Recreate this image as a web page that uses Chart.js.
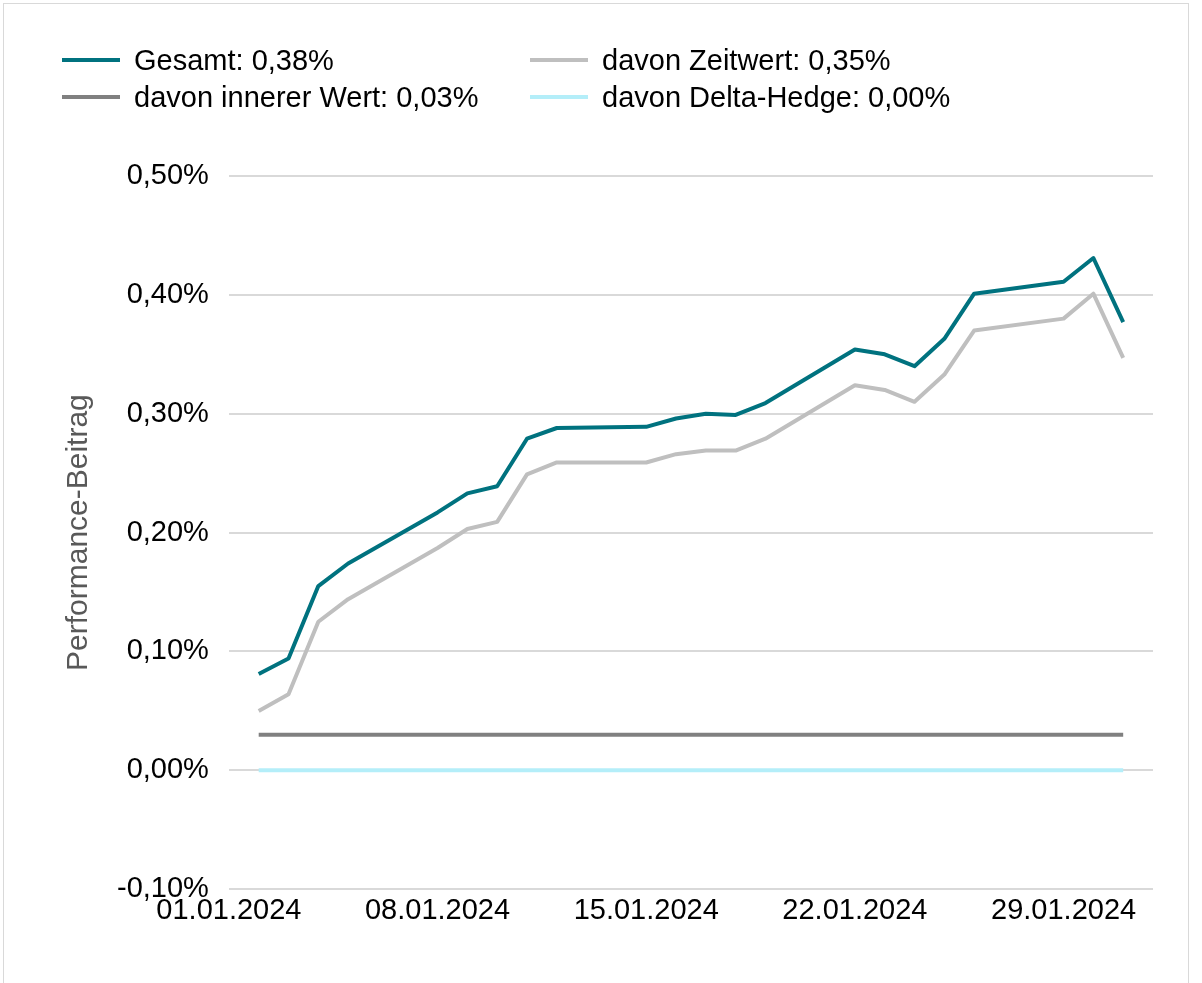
<!DOCTYPE html>
<html>
<head>
<meta charset="utf-8">
<title>Performance-Beitrag</title>
<script src="https://cdn.jsdelivr.net/npm/chart.js@4.4.1/dist/chart.umd.min.js"></script>
<style>
  html, body { margin: 0; padding: 0; background: #fff; }
  #wrap { position: relative; width: 1202px; height: 983px; overflow: hidden; }
  #frame {
    position: absolute; left: 3px; top: 3px; width: 1186px; height: 1000px;
    border: 1px solid #d9d9d9; box-sizing: border-box; pointer-events: none;
  }
  #chart { position: absolute; left: 0; top: 0; }
  .legend-item { position: absolute; height: 36px; }
  .legend-item .swatch { position: absolute; left: 0; top: 16px; width: 58px; height: 4px; }
  .legend-item .label {
    position: absolute; left: 72px; top: 0; white-space: nowrap;
    font: 29px "Liberation Sans", Arial, sans-serif; line-height: 36px; color: #000;
  }
</style>
</head>
<body>
<div id="wrap">
  <canvas id="chart" width="1202" height="983"></canvas>
  <div id="legend"></div>
  <div id="frame"></div>
</div>
<script>
// Handelstage im Januar 2024
const dates = [
  '02.01.2024', '03.01.2024', '04.01.2024', '05.01.2024',
  '08.01.2024', '09.01.2024', '10.01.2024', '11.01.2024', '12.01.2024',
  '15.01.2024', '16.01.2024', '17.01.2024', '18.01.2024', '19.01.2024',
  '22.01.2024', '23.01.2024', '24.01.2024', '25.01.2024', '26.01.2024',
  '29.01.2024', '30.01.2024', '31.01.2024'
];

// Werte in Prozent
const gesamt = [
  0.081, 0.094, 0.155, 0.174,
  0.217, 0.233, 0.239, 0.279, 0.288,
  0.289, 0.296, 0.300, 0.299, 0.309,
  0.354, 0.350, 0.340, 0.363, 0.401,
  0.411, 0.431, 0.377
];
const zeitwert = [
  0.050, 0.064, 0.125, 0.144,
  0.187, 0.203, 0.209, 0.249, 0.259,
  0.259, 0.266, 0.269, 0.269, 0.279,
  0.324, 0.320, 0.310, 0.333, 0.370,
  0.380, 0.401, 0.347
];
const innererWert = [
  0.030, 0.030, 0.030, 0.030,
  0.030, 0.030, 0.030, 0.030, 0.030,
  0.030, 0.030, 0.030, 0.030, 0.030,
  0.030, 0.030, 0.030, 0.030, 0.030,
  0.030, 0.030, 0.030
];
const deltaHedge = [
  0, 0, 0, 0,
  0, 0, 0, 0, 0,
  0, 0, 0, 0, 0,
  0, 0, 0, 0, 0,
  0, 0, 0
];

const seriesLabels = [
  'Gesamt: 0,38%',
  'davon Zeitwert: 0,35%',
  'davon innerer Wert: 0,03%',
  'davon Delta-Hedge: 0,00%'
];

const yTicks = { min: -0.1, max: 0.5, step: 0.1 };
const xTicks = { start: '01.01.2024', end: '01.02.2024', stepDays: 7 };

const FONT = '"Liberation Sans", Arial, sans-serif';
const DAY = 86400000;

function parseDate(s) {
  const [d, m, y] = s.split('.').map(Number);
  return Date.UTC(y, m - 1, d);
}
const origin = parseDate(xTicks.start);
const toDay = s => (parseDate(s) - origin) / DAY;

function formatDay(v) {
  const dt = new Date(origin + v * DAY);
  const dd = String(dt.getUTCDate()).padStart(2, '0');
  const mm = String(dt.getUTCMonth() + 1).padStart(2, '0');
  return dd + '.' + mm + '.' + dt.getUTCFullYear();
}

function formatPct(v) {
  if (Math.abs(v) < 1e-9) v = 0;
  return v.toFixed(2).replace('.', ',') + '%';
}

const points = values => values.map((v, i) => ({ x: toDay(dates[i]), y: v }));

function lineDataset(label, values, color) {
  return {
    label: label,
    data: points(values),
    borderColor: color,
    backgroundColor: color,
    borderWidth: 4,
    pointRadius: 0,
    tension: 0,
    borderJoinStyle: 'round',
    fill: false
  };
}

const chart = new Chart(document.getElementById('chart'), {
  type: 'line',
  data: {
    datasets: [
      lineDataset(seriesLabels[0], gesamt, '#00727f'),
      lineDataset(seriesLabels[1], zeitwert, '#bfbfbf'),
      lineDataset(seriesLabels[2], innererWert, '#808080'),
      lineDataset(seriesLabels[3], deltaHedge, '#b4eef9')
    ]
  },
  options: {
    responsive: false,
    animation: false,
    layout: { padding: { left: 56, top: 176, right: 49, bottom: 51 } },
    plugins: {
      legend: { display: false },
      tooltip: { enabled: false }
    },
    scales: {
      x: {
        type: 'linear',
        min: 0,
        max: toDay(xTicks.end),
        grid: { display: false, drawTicks: false },
        border: { display: false },
        ticks: {
          stepSize: xTicks.stepDays,
          includeBounds: false,
          autoSkip: false,
          maxRotation: 0,
          padding: 4,
          color: '#000',
          font: { family: FONT, size: 29 },
          callback: v => formatDay(v)
        }
      },
      y: {
        min: yTicks.min,
        max: yTicks.max,
        grid: { color: '#d9d9d9', lineWidth: 2, drawTicks: false },
        border: { display: false },
        ticks: {
          stepSize: yTicks.step,
          padding: 20,
          color: '#000',
          font: { family: FONT, size: 29 },
          callback: v => formatPct(v)
        },
        title: {
          display: true,
          text: 'Performance-Beitrag',
          color: '#595959',
          font: { family: FONT, size: 30 },
          padding: { top: 5, bottom: 0 }
        }
      }
    }
  }
});

// Legende in zwei Spalten
const legendCols = [62, 530];
const legendRows = [42, 79];
const legendEl = document.getElementById('legend');
chart.data.datasets.forEach((ds, i) => {
  const item = document.createElement('div');
  item.className = 'legend-item';
  item.style.left = legendCols[i % 2] + 'px';
  item.style.top = legendRows[Math.floor(i / 2)] + 'px';
  const sw = document.createElement('span');
  sw.className = 'swatch';
  sw.style.background = ds.borderColor;
  const tx = document.createElement('span');
  tx.className = 'label';
  tx.textContent = ds.label;
  item.appendChild(sw);
  item.appendChild(tx);
  legendEl.appendChild(item);
});
</script>
</body>
</html>
